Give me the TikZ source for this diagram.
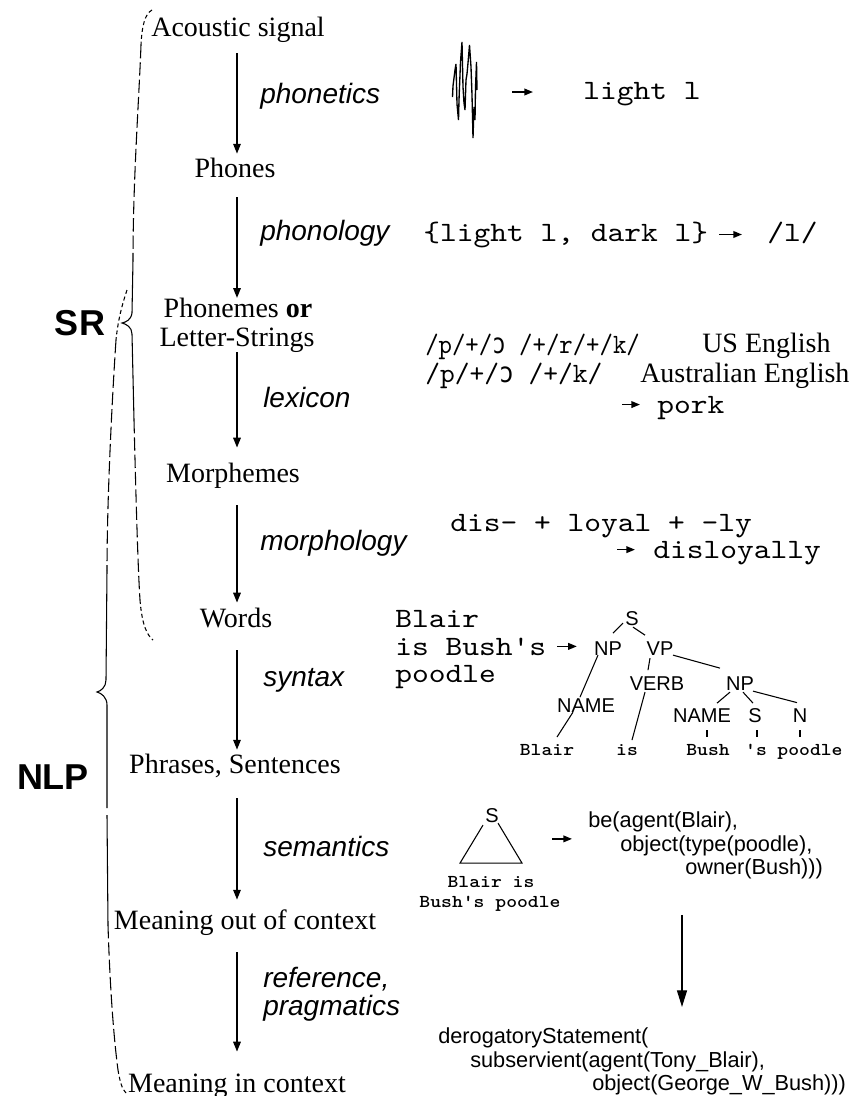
\documentclass[tikz,border=0pt]{standalone}
\usepackage{fontspec}
\usepackage{graphicx}
\setmainfont{Liberation Serif}
\newfontfamily\hv{Liberation Sans}
\newfontfamily\cour{lmmono10-regular.otf}[FakeStretch=1.14, BoldFont=lmmonolt10-bold.otf]
\newfontfamily\dvm{DejaVu Sans Mono}
\usetikzlibrary{arrows.meta,calc}
\begin{document}
\begin{tikzpicture}[x=0.75pt,y=-0.75pt,
 lvl/.style={font=\fontsize{21}{24}\selectfont, anchor=base, inner sep=0pt, text height=14pt, text depth=4.5pt},
 proc/.style={font=\hv\itshape\fontsize{21}{24}\selectfont, anchor=base west, inner sep=0pt},
 mono/.style={font=\cour\fontsize{21}{24}\selectfont, anchor=base west, inner sep=0pt},
 ser/.style={font=\fontsize{21}{24}\selectfont, anchor=base west, inner sep=0pt},
 sem/.style={font=\hv\fontsize{16.3}{20}\selectfont, anchor=base west, inner sep=0pt},
 tl/.style={font=\hv\fontsize{15}{18}\selectfont, anchor=base, inner sep=0pt},
 leaf/.style={font=\cour\bfseries\fontsize{13.6}{16}\selectfont, anchor=base, inner sep=0pt},
 big/.style={font=\hv\bfseries\fontsize{27}{30}\selectfont, anchor=base, inner sep=0pt},
 mainarr/.style={line width=1.5pt, -{Triangle[length=7.5pt,width=5.5pt]}},
 smallarr/.style={line width=1.2pt, -{Triangle[length=6.5pt,width=5pt]}},
 brace/.style={line width=0.8pt},
 longdash/.style={dash pattern=on 10pt off 3pt},
 finedash/.style={dash pattern=on 3pt off 2.2pt},
 treeline/.style={line width=0.8pt},
]
\useasboundingbox (0,0) rectangle (860,1096);
\fill[white] (0,0) rectangle (860,1096);

% ---------- main column ----------
\coordinate (col) at (237,0);
\node[lvl] (acou)   at (238,36)   {Acoustic signal};
\node[lvl] (phones) at (235,177)  {Phones};
\node[lvl] (phon1)  at (238,317)  {Phonemes \textbf{or}};
\node[lvl] (phon2)  at (237,346)  {Letter-Strings};
\node[lvl] (morph)  at (233,482)  {Morphemes};
\node[lvl] (words)  at (236,627)  {Words};
\node[lvl] (phr)    at (235,773)  {Phrases, Sentences};
\node[lvl] (mout)   at (245,929)  {Meaning out of context};
\node[lvl] (min)    at (237,1092) {Meaning in context};

\draw[mainarr, shorten <=8.25pt, shorten >=3.2pt] (acou.south -| col) -- (phones.north -| col);
\draw[mainarr, shorten <=10.5pt] (phones.south -| col) -- (phon1.north -| col);
\draw[mainarr, shorten >=11.5pt] (phon2.south -| col) -- (morph.north -| col);
\draw[mainarr, shorten <=12.75pt, shorten >=4pt] (morph.south -| col) -- (words.north -| col);
\draw[mainarr, shorten <=12.75pt, shorten >=3.2pt] (words.south -| col) -- (phr.north -| col);
\draw[mainarr, shorten <=14.25pt, shorten >=7.7pt] (phr.south -| col) -- (mout.north -| col);
\draw[mainarr, shorten <=12.75pt, shorten >=16pt] (mout.south -| col) -- (min.north -| col);

\node[proc] (pnet) at (260,103)  {phonetics};
\node[proc] (pnol) at (260,240)  {phonology};
\node[proc] (lex)  at (263,407)  {lexicon};
\node[proc] (mor)  at (260,550)  {morphology};
\node[proc] (syn)  at (263,686)  {syntax};
\node[proc] (sema) at (263,856)  {semantics};
\node[proc] (ref)  at (263,987)  {reference,};
\node[proc] (prag) at (263,1015) {pragmatics};

% ---------- braces ----------
\node[big] (sr)  at (80,335) {SR};
\node[big] (nlp) at (53,789) {NLP};

% SR brace
\draw[brace, finedash] (152,10) .. controls (145,14) and (142,25) .. (141,45);
\draw[brace, longdash] (141,45) .. controls (139,100) and (133,180) .. (133,260);
\draw[brace] (133,260) -- (132,313) .. controls (131,320) and (126,322) .. (122,323)
   .. controls (126,324) and (132,327) .. (132,334) -- (134,420);
\draw[brace, longdash] (134,420) .. controls (136,500) and (138,570) .. (140,600);
\draw[brace, finedash] (140,600) .. controls (142,625) and (147,635) .. (153,640);

% NLP brace
\draw[brace, finedash] (127,290) .. controls (122,305) and (118,320) .. (116,340);
\draw[brace, longdash] (116,340) .. controls (112,400) and (107,500) .. (107,570);
\draw[brace] (107,570) -- (106,680) .. controls (106,687) and (101,691) .. (97,692)
   .. controls (101,693) and (107,697) .. (107,705) -- (107,808);
\draw[brace] (107,815) -- (108,925);
\draw[brace, longdash] (108,925) .. controls (110,990) and (114,1040) .. (118,1070);
\draw[brace, finedash] (118,1070) .. controls (120,1082) and (122,1089) .. (126,1093);

% ---------- phonetics ----------
\draw[line width=1pt, line join=bevel] plot coordinates {(452.5,97) (453,86) (455,70) (456,64) (457,104) (458.5,120) (459,100) (460.5,62) (462,42) (463,87) (464,103) (465,110) (466,80) (467,74) (468,63) (469.5,45) (471,67) (472,95) (473,138) (474,107) (475,120) (475.5,88) (476.5,62) (477,90)};
\coordinate (wave) at (478,92);
\node[mono] (ll) at (583,99) {light l};
\draw[smallarr, shorten <=25.5pt, shorten >=37.5pt] (wave) -- (wave -| ll.west);

% ---------- phonology ----------
\node[mono] (set) at (423,241) {\{light l, dark l\}};
\node[mono] (slash) at (767,241) {/l/};
\draw[smallarr, shorten <=8pt, shorten >=18.75pt] (set.east) -- (set.east -| slash.west);

% ---------- lexicon ----------
\node[mono] (ipa1) at (425,353) {\scalebox{0.8}[1]{/p/+/{\dvm ɔ} /+/r/+/k/}};
\node[ser]  (us)   at (702,352) {US English};
\node[mono] (ipa2) at (425,382) {\scalebox{0.88}[1]{/p/+/{\dvm ɔ} /+/k/}};
\node[ser]  (au)   at (640,382) {Australian English};
\node[mono] (pork) at (657,413) {pork};
\draw[smallarr, shorten >=12.75pt] ($(pork.west)+(-35,-3)$) -- ($(pork.west)+(0,-3)$);

% ---------- morphology ----------
\node[mono] (dis)  at (450,531) {dis- + loyal + -ly};
\node[mono] (disl) at (653,558) {disloyally};
\draw[smallarr, shorten >=13.5pt] ($(disl.west)+(-36,-3)$) -- ($(disl.west)+(0,-3)$);

% ---------- syntax ----------
\node[mono] (bl1) at (395,627) {Blair};
\node[mono] (bl2) at (395,655) {is Bush's};
\node[mono] (bl3) at (395,682) {poodle};

\node[tl] (S)     at (632,625) {S};
\node[tl] (NP)    at (608,655) {NP};
\node[tl] (VP)    at (660,655) {VP};
\node[tl] (VERB)  at (657,690) {VERB};
\node[tl] (NPb)   at (740,690) {NP};
\node[tl] (NAME)  at (586,712) {NAME};
\node[tl] (NAMEb) at (702,722) {NAME};
\node[tl] (Sb)    at (755,722) {S};
\node[tl] (N)     at (800,722) {N};
\node[leaf] (lBlair) at (547,755) {Blair};
\node[leaf] (lis)    at (627,755) {is};
\node[leaf] (lBush)  at (708,755) {Bush};
\node[leaf] (ls)     at (756,755) {'s};
\node[leaf] (lpood)  at (810,755) {poodle};

\draw[smallarr, shorten <=8.25pt, shorten >=12.75pt] (bl2.east) -- (bl2.east -| NP.west);

\draw[treeline] ($(S)+(-9,5)$) -- ($(NP)+(5,-15)$);
\draw[treeline] ($(S)+(1,9)$) -- ($(VP)+(-15,-13)$);
\draw[treeline] ($(VP)+(13,7)$) -- ($(NPb)+(-20,-15)$);
\draw[treeline] ($(VP)+(-10,10)$) -- ($(VERB)+(-9,-13)$);
\draw[treeline] ($(NP)+(-10,7)$) -- ($(NAME)+(-6,-8)$);
\draw[treeline] ($(NAME)+(-13,7)$) -- ($(lBlair)+(10,-12.5)$);
\draw[treeline] ($(VERB)+(-12,9)$) -- ($(lis)+(5,-9.5)$);
\draw[treeline] ($(NPb)+(-10,9)$) -- ($(NAMEb)+(15,-12)$);
\draw[treeline] ($(NPb)+(3,9)$) -- ($(Sb)+(-2,-12)$);
\draw[treeline] ($(NPb)+(13,8)$) -- ($(N)+(-3,-12.5)$);
\draw[treeline] ($(NAMEb)+(5,15)$) -- ($(lBush)+(-1,-12.5)$);
\draw[treeline] ($(Sb)+(2,15)$) -- ($(ls)+(1,-12.5)$);
\draw[treeline] ($(N)+(0,15)$) -- ($(lpood)+(-10,-14)$);

% ---------- semantics ----------
\node[tl] (tS) at (492,822) {S};
\draw[treeline] ($(tS)+(-9,10)$) -- ($(tS)+(-32,48)$) -- ($(tS)+(30,48)$) -- ($(tS)+(6,8)$);
\node[leaf] (tx1) at (491,887) {Blair is};
\node[leaf] (tx2) at (490,907) {Bush's poodle};

\node[sem] (be1) at (588,827) {be(agent(Blair),};
\node[sem] (be2) at (620,851) {object(type(poodle),};
\node[sem] (own) at (685,874) {owner(Bush)))};
\draw[smallarr] ($(be1.west)+(-36,17.5)$) -- ($(be1.west)+(-16,17.5)$);

% ---------- reference, pragmatics ----------
\node[sem] (der)  at (438,1043) {derogatoryStatement(};
\node[sem] (sub)  at (470,1067) {subservient(agent(Tony\_Blair),};
\node[sem] (obj)  at (592,1090) {object(George\_W\_Bush)))};
\coordinate (ax) at (682,0);
\draw[line width=1pt, -{Triangle[length=12.5pt,width=7.5pt]}, shorten <=27pt, shorten >=15pt] (own.south -| ax) -- (der.north -| ax);
\end{tikzpicture}
\end{document}
